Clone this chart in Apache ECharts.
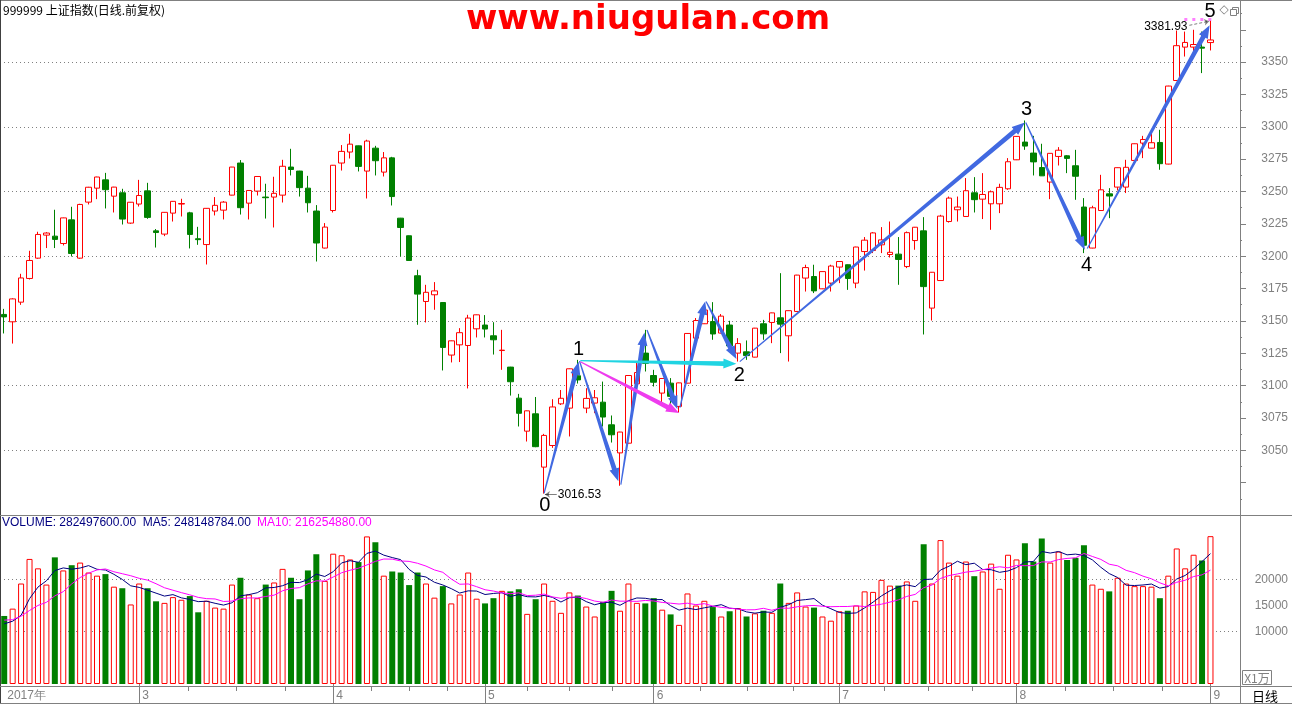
<!DOCTYPE html>
<html>
<head>
<meta charset="utf-8">
<script src="https://cdn.jsdelivr.net/npm/echarts@6/dist/echarts.min.js"></script>
<style>
html,body{margin:0;padding:0;background:#ffffff;}
#chart{width:1292px;height:704px;}
</style>
</head>
<body>
<div id="chart"></div>
<script>
// ---------------- DATA ----------------
// trading days (2017) by month
const tradingDays = [
  [2, [7,8,9,10,13,14,15,16,17,20,21,22,23,24,27,28]],
  [3, [1,2,3,6,7,8,9,10,13,14,15,16,17,20,21,22,23,24,27,28,29,30,31]],
  [4, [5,6,7,10,11,12,13,14,17,18,19,20,21,24,25,26,27,28]],
  [5, [2,3,4,5,8,9,10,11,12,15,16,17,18,19,22,23,24,25,26,31]],
  [6, [1,2,5,6,7,8,9,12,13,14,15,16,19,20,21,22,23,26,27,28,29,30]],
  [7, [3,4,5,6,7,10,11,12,13,14,17,18,19,20,21,24,25,26,27,28,31]],
  [8, [1,2,3,4,7,8,9,10,11,14,15,16,17,18,21,22,23,24,25,28,29,30,31]],
  [9, [1]]
];

const opens = [3155.0,3149.3,3164.5,3182.8,3198.5,3216.3,3215.5,3209.8,3228.1,3198.5,
3241.8,3252.6,3259.0,3246.4,3249.0,3225.6,3240.3,3250.5,3219.6,3217.1,
3233.3,3240.3,3233.5,3213.5,3209.0,3234.9,3235.6,3247.2,3272.0,3241.0,
3250.3,3245.7,3245.7,3247.2,3268.9,3265.8,3252.6,3234.9,3206.3,3235.3,
3272.0,3280.5,3285.3,3265.8,3283.5,3265.0,3276.0,3229.4,3215.8,3184.9,
3165.0,3170.2,3164.2,3123.6,3131.5,3131.0,3143.9,3146.8,3138.5,3127.1,
3114.3,3090.3,3064.8,3078.2,3037.0,3053.7,3085.9,3082.6,3107.6,3082.6,
3086.5,3087.2,3069.7,3048.0,3055.5,3101.4,3125.1,3107.8,3094.2,3101.9,
3083.9,3101.9,3136.7,3147.8,3149.5,3140.6,3146.8,3125.1,3126.1,3122.0,
3147.8,3148.8,3152.4,3138.5,3157.3,3183.1,3184.3,3174.8,3179.2,3191.6,
3193.4,3179.2,3203.6,3204.4,3208.8,3201.3,3201.6,3192.0,3212.1,3219.6,
3159.9,3181.2,3226.8,3235.9,3230.7,3249.0,3244.1,3240.5,3240.5,3252.1,
3274.5,3288.2,3279.7,3268.5,3257.3,3277.1,3277.6,3269.9,3238.0,3206.3,
3235.3,3248.2,3253.4,3253.4,3274.0,3287.4,3283.5,3287.9,3271.2,3335.8,
3361.6,3361.6,3361.6,3365.1];

const closes = [3153.1,3167.0,3183.2,3196.7,3216.8,3217.9,3213.0,3229.6,3202.1,3240.0,
3253.3,3261.2,3251.4,3253.4,3228.7,3241.7,3246.9,3230.0,3218.3,3233.9,
3242.4,3240.7,3216.8,3212.8,3237.0,3239.3,3241.8,3268.9,3237.5,3250.8,
3261.6,3245.2,3248.6,3269.5,3267.0,3253.0,3241.3,3210.2,3222.5,3270.3,
3281.0,3286.6,3269.4,3289.0,3273.8,3276.0,3246.1,3222.2,3196.7,3170.7,
3172.1,3173.2,3129.5,3134.6,3140.9,3152.2,3154.7,3143.7,3135.4,3127.4,
3103.0,3078.6,3080.5,3052.8,3061.5,3083.5,3090.2,3113.0,3104.4,3090.1,
3090.6,3075.7,3062.0,3064.1,3107.8,3110.1,3117.2,3102.6,3105.5,3091.7,
3102.1,3140.3,3150.3,3158.4,3139.9,3153.7,3130.7,3132.5,3123.2,3144.4,
3140.0,3156.2,3147.5,3157.9,3185.4,3191.2,3173.2,3188.1,3192.4,3195.9,
3182.8,3207.1,3212.4,3218.0,3212.6,3203.0,3197.5,3218.2,3222.4,3176.5,
3187.6,3231.0,3244.9,3238.0,3250.6,3243.7,3247.7,3249.8,3253.2,3273.0,
3292.6,3285.1,3272.9,3262.1,3279.5,3281.9,3275.6,3261.8,3208.5,3237.4,
3251.3,3246.5,3268.4,3268.7,3286.9,3290.2,3287.7,3271.5,3331.5,3362.7,
3365.2,3363.6,3360.8,3367.1];

const lows = [3140.3,3132.5,3162.4,3182.0,3198.0,3206.3,3206.3,3208.3,3199.8,3198.0,
3240.0,3244.1,3236.9,3233.8,3224.5,3225.0,3238.4,3228.9,3206.7,3215.5,
3226.8,3230.7,3206.0,3208.8,3193.6,3231.5,3228.4,3247.0,3232.2,3228.4,
3246.9,3229.1,3222.2,3241.5,3262.4,3246.1,3233.8,3195.9,3206.0,3233.8,
3266.2,3275.5,3265.5,3244.6,3262.4,3261.6,3239.2,3199.8,3196.5,3147.0,
3148.8,3158.6,3111.7,3117.9,3118.2,3097.8,3137.2,3137.2,3124.0,3112.2,
3092.3,3068.4,3056.8,3052.4,3016.53,3051.9,3085.0,3060.7,3101.6,3078.7,
3078.7,3068.4,3056.0,3022.6,3055.3,3101.0,3110.9,3099.3,3086.5,3085.2,
3079.2,3101.7,3136.5,3147.6,3135.4,3140.4,3127.1,3118.6,3119.9,3121.8,
3135.4,3132.8,3125.1,3118.6,3157.1,3172.7,3171.5,3174.6,3172.7,3179.2,
3174.0,3175.3,3188.9,3202.4,3202.4,3199.0,3177.9,3190.8,3205.0,3139.5,
3150.3,3181.0,3226.0,3226.8,3230.5,3233.8,3228.7,3220.4,3233.3,3251.3,
3274.3,3282.2,3262.4,3262.0,3244.1,3270.1,3264.2,3243.6,3202.4,3206.1,
3235.1,3229.4,3250.8,3248.8,3273.8,3275.8,3283.3,3266.8,3271.0,3335.6,
3354.3,3357.0,3341.5,3359.0];

const highs = [3159.3,3167.5,3186.4,3204.2,3218.9,3218.6,3235.9,3229.8,3238.2,3240.5,
3253.6,3261.4,3264.4,3253.6,3252.1,3241.9,3259.0,3256.7,3221.0,3234.1,
3242.6,3244.4,3234.3,3222.7,3237.2,3245.7,3242.6,3269.0,3274.3,3251.0,
3261.8,3256.0,3261.4,3274.5,3283.0,3266.0,3262.1,3239.5,3225.6,3270.5,
3285.9,3294.6,3285.5,3290.0,3285.3,3280.5,3276.8,3229.6,3216.0,3189.5,
3177.9,3180.0,3164.4,3134.8,3144.4,3154.7,3154.9,3154.5,3149.0,3143.1,
3114.5,3093.6,3080.7,3091.2,3062.7,3089.5,3096.6,3113.2,3119.9,3098.0,
3096.6,3103.1,3076.9,3064.3,3108.0,3118.6,3143.1,3112.2,3105.7,3105.8,
3102.3,3140.6,3152.2,3163.8,3164.5,3155.3,3150.1,3136.7,3134.9,3144.6,
3150.8,3156.4,3186.9,3158.1,3185.6,3193.4,3193.4,3188.3,3193.4,3196.1,
3193.6,3207.3,3214.8,3218.6,3222.5,3226.8,3214.8,3219.1,3222.6,3230.2,
3187.8,3232.0,3246.1,3246.1,3260.4,3261.1,3264.2,3250.8,3256.0,3275.8,
3292.8,3304.9,3293.0,3286.9,3279.7,3284.3,3278.1,3282.2,3244.9,3239.0,
3262.9,3252.6,3268.6,3274.5,3287.1,3293.0,3295.6,3297.7,3331.7,3374.4,
3373.6,3375.0,3373.6,3381.93];

// volume in units of 1万
const volumes = [13000,14400,19200,23900,22100,19000,24200,21700,22700,23200,
21300,20700,21000,18600,18300,15200,19200,18300,15800,15500,
16600,16100,16800,13700,15900,14600,14400,19000,20300,17100,
16400,19000,19400,22000,20300,16200,21700,24800,19700,24900,
24600,23800,23300,28200,27100,20700,21500,21300,18900,21300,
19200,16500,18700,15400,17100,21300,16300,15400,16400,17800,
17700,18100,13400,16200,19200,15900,13600,17500,16900,14800,
12900,15700,17800,14000,19200,15500,15400,16400,14200,13300,
11300,17300,15000,15900,14700,12900,13900,14500,12900,13500,
14000,13600,19200,15500,17500,14800,14600,12900,12100,13900,
14000,15000,17700,17600,19900,18800,18800,19600,15900,26700,
19200,27500,23200,20700,23400,20600,21500,23000,18200,24700,
23800,26900,23400,27800,23200,25300,23700,24100,26500,19000,
18200,17700,20300,19200,18700,18700,18600,16400,20700,25900,
22100,24700,23600,28249.76];
// volumes of the nine sessions before the first visible day (for the moving averages)
const preVolumes = [13500,12500,13000,12500,13000,11900,13600,8000,11000];

const priceTickLabels = [3050,3075,3100,3125,3150,3175,3200,3225,3250,3275,3300,3325,3350];
const volumeTickLabels = [10000,15000,20000];

// wave annotation: arrows [fromIndex, fromPrice, toIndex, toPrice]
const waveArrows = [
  [64.0, 3016.8, 68.1, 3118.5],
  [68.2, 3119.0, 72.8, 3026.0],
  [73.1, 3023.5, 75.9, 3141.0],
  [76.2, 3143.0, 79.8, 3082.0],
  [80.1, 3083.0, 83.1, 3165.0],
  [83.2, 3165.0, 86.8, 3120.5],
  [87.2, 3118.5, 121.0, 3303.3],
  [121.1, 3303.3, 128.1, 3205.0],
  [128.4, 3206.0, 142.9, 3378.5]
];
const cyanArrows = [[68.3, 3119.3, 86.8, 3116.8]];
const magentaArrows = [[68.3, 3118.5, 80.0, 3078.8]];
const waveLabels = ['0','1','2','3','4','5'];
const waveLabelAt = [[64.1,3007.1],[68.1,3128.0],[87.15,3107.6],[121.2,3313.2],[128.3,3192.6],[142.95,3388.9]];
const lowText = '3016.53', highText = '3381.93';

// ---------------- BUILD ----------------
const pad = n => (n < 10 ? '0' + n : '' + n);
const categories = [];
const xLabels = [];
const monthStarts = [];
tradingDays.forEach(([m, days]) => {
  days.forEach((d, k) => {
    if (k === 0) {
      monthStarts.push(categories.length);
      xLabels[categories.length] = categories.length === 0 ? '2017年' : String(m);
    }
    categories.push('2017-' + pad(m) + '-' + pad(d));
  });
});
const NDATA = categories.length; // 144
const NSLOT = 147;               // 3 empty slots on the right
const axisCats = categories.slice();
for (let i = NDATA; i < NSLOT; i++) axisCats.push('_' + i);
const monthTickSet = new Set(monthStarts.filter(i => i > 0));

const candleData = opens.map((o, i) => [o, closes[i], lows[i], highs[i]]);
const RED = '#ff0000', GREEN = '#008000', GRAY = '#808080';
const volData = volumes.map((v, i) => closes[i] >= opens[i]
  ? {value: v, itemStyle: {color: '#ffffff', borderColor: RED, borderWidth: 1}}
  : {value: v, itemStyle: {color: GREEN, borderWidth: 0}});

function movingAvg(n) {
  const all = preVolumes.concat(volumes);
  const off = preVolumes.length;
  return volumes.map((_, i) => {
    let s = 0;
    for (let k = 0; k < n; k++) s += all[off + i - k];
    return +(s / n).toFixed(1);
  });
}
const ma5 = movingAvg(5), ma10 = movingAvg(10);

const BLUE = '#4169e1', CYAN = '#20d4e2', MAGENTA = '#ee3cee';
const arrowItems = []
  .concat(waveArrows.map(a => ({value: a, itemStyle: {color: BLUE}})))
  .concat(cyanArrows.map(a => ({value: a, itemStyle: {color: CYAN}})))
  .concat(magentaArrows.map(a => ({value: a, itemStyle: {color: MAGENTA}})));

function renderArrow(params, api) {
  const a = api.coord([api.value(0), api.value(1)]);
  const b = api.coord([api.value(2), api.value(3)]);
  const dx = b[0] - a[0], dy = b[1] - a[1];
  const len = Math.hypot(dx, dy) || 1;
  const ux = dx / len, uy = dy / len, nx = -uy, ny = ux;
  const L = 13, H = 5, w0 = 0.6, w1 = 2.4;
  const bx = b[0] - ux * L, by = b[1] - uy * L;
  const pts = [
    [a[0] + nx * w0, a[1] + ny * w0],
    [bx + nx * w1, by + ny * w1],
    [bx + nx * H, by + ny * H],
    [b[0], b[1]],
    [bx - nx * H, by - ny * H],
    [bx - nx * w1, by - ny * w1],
    [a[0] - nx * w0, a[1] - ny * w0]
  ];
  return {type: 'polygon', shape: {points: pts}, style: {fill: api.visual('color')}};
}

const FONT = 'Arial, "Liberation Sans", sans-serif';
const CJK = '"Noto Sans CJK SC", sans-serif';
const noLine = {show: false, onZero: false};

const option = {
  animation: false,
  backgroundColor: '#ffffff',
  grid: [
    {left: 0, top: 0, width: 1240, height: 515},
    {left: 0, top: 527, width: 1240, height: 157}
  ],
  xAxis: [
    {type: 'category', gridIndex: 0, data: axisCats, boundaryGap: true,
     axisLine: noLine, axisTick: {show: false}, axisLabel: {show: false}, splitLine: {show: false}},
    {type: 'category', gridIndex: 1, data: axisCats, boundaryGap: true,
     axisLine: noLine,
     axisTick: {show: true, alignWithLabel: true, interval: (i) => monthTickSet.has(i), length: 20,
                lineStyle: {color: GRAY, width: 1}},
     axisLabel: {show: true, interval: 0, formatter: (v, i) => xLabels[i] || '', color: GRAY,
                 fontSize: 12, fontFamily: FONT, align: 'left', padding: [0, 0, 0, 3], margin: 6},
     splitLine: {show: false}},
    {type: 'value', gridIndex: 0, min: -0.5, max: NSLOT - 0.5, show: false, axisLine: noLine}
  ],
  yAxis: [
    {type: 'value', gridIndex: 0, position: 'right', min: 3000, max: 3398, interval: 25,
     axisLine: noLine,
     axisTick: {show: true, length: 6, lineStyle: {color: GRAY}},
     minorTick: {show: true, splitNumber: 2, length: 2, lineStyle: {color: GRAY}},
     axisLabel: {show: true, margin: 48, align: 'right', color: GRAY, fontSize: 12, fontFamily: FONT,
                 formatter: v => priceTickLabels.indexOf(v) >= 0 ? String(v) : ''},
     splitLine: {show: false}},
    {type: 'value', gridIndex: 0, position: 'right', min: 3000, max: 3398, interval: 50,
     axisLine: noLine, axisTick: {show: false}, axisLabel: {show: false},
     splitLine: {show: true, showMinLine: false, showMaxLine: false,
                 lineStyle: {color: GRAY, width: 1, type: [1, 3]}}},
    {type: 'value', gridIndex: 1, position: 'right', min: 0, max: 30000, interval: 5000,
     axisLine: noLine, axisTick: {show: false},
     axisLabel: {show: true, margin: 48, align: 'right', color: GRAY, fontSize: 12, fontFamily: FONT,
                 formatter: v => volumeTickLabels.indexOf(v) >= 0 ? String(v) : ''},
     splitLine: {show: false}},
    {type: 'value', gridIndex: 1, position: 'right', min: 0, max: 30000, interval: 10000,
     axisLine: noLine, axisTick: {show: false}, axisLabel: {show: false},
     splitLine: {show: true, showMinLine: false, showMaxLine: false,
                 lineStyle: {color: GRAY, width: 1, type: [1, 3]}}}
  ],
  series: [
    {type: 'candlestick', name: 'K', xAxisIndex: 0, yAxisIndex: 0, data: candleData, barWidth: 6,
     itemStyle: {color: '#ffffff', color0: GREEN, borderColor: RED, borderColor0: GREEN, borderWidth: 1}},
    {type: 'bar', name: 'VOLUME', xAxisIndex: 1, yAxisIndex: 2, data: volData, barWidth: 6},
    {type: 'line', name: 'MA5', xAxisIndex: 1, yAxisIndex: 2, data: ma5, showSymbol: false,
     lineStyle: {color: '#000080', width: 1}, itemStyle: {color: '#000080'}},
    {type: 'line', name: 'MA10', xAxisIndex: 1, yAxisIndex: 2, data: ma10, showSymbol: false,
     lineStyle: {color: '#ff00ff', width: 1}, itemStyle: {color: '#ff00ff'}},
    {type: 'custom', name: 'waves', xAxisIndex: 2, yAxisIndex: 0, data: arrowItems,
     renderItem: renderArrow, z: 10, clip: false},
    {type: 'lines', coordinateSystem: 'cartesian2d', xAxisIndex: 2, yAxisIndex: 0, z: 11,
     symbol: ['none', 'arrow'], symbolSize: 5,
     data: [
       {coords: [[65.5, lows[64] - 0.6], [64.1, lows[64] - 0.6]], lineStyle: {color: '#000', width: 1}},
       {coords: [[140.5, highs[143] - 3.5], [142.85, highs[143] - 0.3]],
        lineStyle: {color: '#000', width: 1, type: [3, 2]}}
     ]},
    {type: 'lines', coordinateSystem: 'cartesian2d', xAxisIndex: 2, yAxisIndex: 0, z: 9,
     symbol: ['none', 'none'],
     data: [{coords: [[139.9, highs[143] + 0.9], [143.4, highs[143] + 0.9]]}],
     lineStyle: {color: '#ff00ff', width: 3, type: [3, 5]}}
  ]
};

const chart = echarts.init(document.getElementById('chart'), null, {renderer: 'canvas'});
chart.setOption(option);

// ---------------- TEXT & FRAME ----------------
const toPx = (x, y) => chart.convertToPixel({xAxisIndex: 2, yAxisIndex: 0}, [x, y]);
const toX = v => chart.convertToPixel({xAxisIndex: 2}, v);
const g = [];
function txt(x, y, text, o) {
  o = o || {};
  g.push({type: 'text', x: x, y: y, z: 100, silent: true,
    style: {text: text, fill: o.fill || '#000', fontSize: o.size || 12, fontFamily: o.family || FONT,
            fontWeight: o.weight || 'normal',
            align: o.align || 'left', textAlign: o.align || 'left',
            verticalAlign: 'middle', textVerticalAlign: 'middle'}});
}
function ln(x1, y1, x2, y2, color, w) {
  g.push({type: 'line', z: 90, silent: true, shape: {x1: x1, y1: y1, x2: x2, y2: y2},
    style: {stroke: color || GRAY, lineWidth: w || 1}});
}
// frame
ln(0, 0.5, 1292, 0.5, GRAY);
ln(0.5, 0, 0.5, 704, '#404040');
ln(1240.5, 0, 1240.5, 704, GRAY);
ln(0, 515.5, 1292, 515.5, GRAY);
ln(0, 686.5, 1292, 686.5, GRAY);
ln(0, 703.5, 1292, 703.5, GRAY);
// quarter ticks inside each month on the date strip
for (let m = 0; m < monthStarts.length - 1; m++) {
  const s = monthStarts[m], e = monthStarts[m + 1];
  if (s === 0) continue;
  for (let k = 1; k <= 3; k++) {
    const x = Math.round(toX(s + (e - s) * k / 4)) + 0.5;
    ln(x, 687, x, 691, GRAY);
  }
}
// titles
txt(3, 10, '999999 上证指数(日线.前复权)', {family: CJK, size: 12});
txt(648, 20, 'www.niugulan.com', {fill: '#ff0000', size: 34, weight: 'bold', family: '"DejaVu Sans", sans-serif', align: 'center'});
txt(2, 523, 'VOLUME: 282497600.00  MA5: 248148784.00', {fill: '#000080'});
txt(257, 523, 'MA10: 216254880.00', {fill: '#ff00ff'});
// wave numbers
waveLabels.forEach((t, i) => {
  const p = toPx(waveLabelAt[i][0], waveLabelAt[i][1]);
  txt(p[0], p[1], t, {size: 20, align: 'center'});
});
// extreme prices
const pl = toPx(65.5, lows[64] - 0.9);
txt(pl[0] + 1, pl[1], lowText, {});
const ph = toPx(140.4, highs[143] - 4.5);
txt(ph[0] - 1, ph[1], highText, {align: 'right'});
// right-side widgets
g.push({type: 'rect', z: 90, silent: true, shape: {x: 1242.5, y: 670.5, width: 29, height: 14},
  style: {fill: 'none', stroke: GRAY, lineWidth: 1}});
txt(1257, 678, 'X1万', {fill: GRAY, size: 12, align: 'center', family: CJK});
txt(1265, 696, '日线', {size: 13, align: 'center', family: CJK});
txt(1224, 10, '◇', {fill: GRAY, size: 12, align: 'center', family: '"DejaVu Sans", sans-serif'});
g.push({type: 'rect', z: 90, silent: true, shape: {x: 1232.5, y: 7.5, width: 6, height: 6},
  style: {fill: '#fff', stroke: GRAY, lineWidth: 1}});
g.push({type: 'rect', z: 91, silent: true, shape: {x: 1230.5, y: 9.5, width: 6, height: 6},
  style: {fill: '#fff', stroke: GRAY, lineWidth: 1}});

chart.setOption({graphic: g});
</script>
</body>
</html>
